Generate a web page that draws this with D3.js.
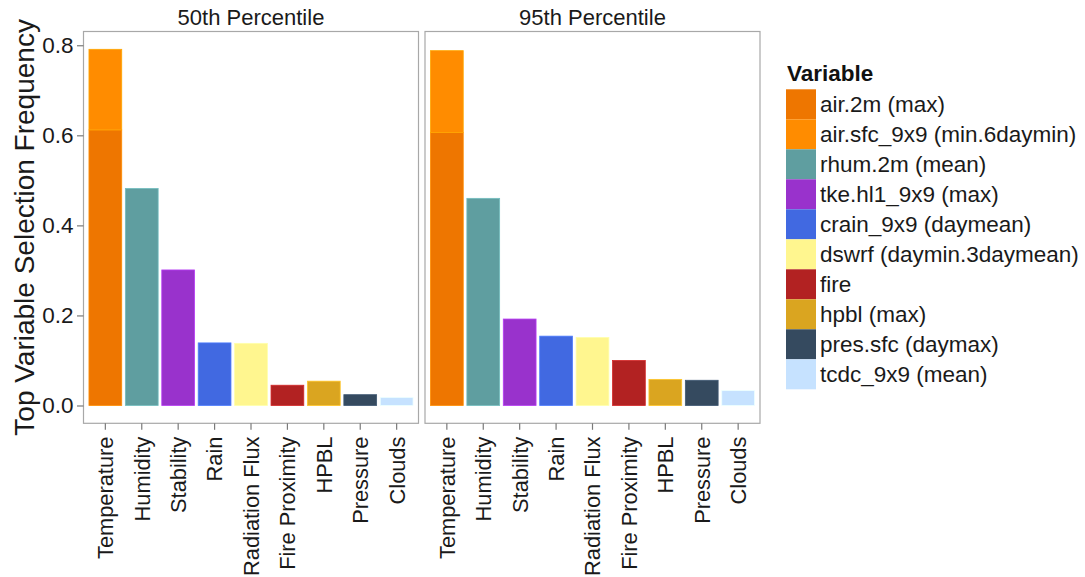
<!DOCTYPE html>
<html>
<head>
<meta charset="utf-8">
<script src="https://cdn.jsdelivr.net/npm/d3@7"></script>
<style>
  html, body { margin: 0; padding: 0; background: #fff; }
  svg { display: block; font-family: "Liberation Sans", Arial, Helvetica, sans-serif; }
</style>
</head>
<body>
<svg id="chart" width="1085" height="577"></svg>
<script>
// Facet panels
const panels = ["50th Percentile", "95th Percentile"];

// Variable groups along the x axis
const categories = ["Temperature", "Humidity", "Stability", "Rain", "Radiation Flux",
                    "Fire Proximity", "HPBL", "Pressure", "Clouds"];

// Legend entries (fill variable), the group each belongs to, and its colour
const variables = ["air.2m (max)", "air.sfc_9x9 (min.6daymin)", "rhum.2m (mean)",
                   "tke.hl1_9x9 (max)", "crain_9x9 (daymean)", "dswrf (daymin.3daymean)",
                   "fire", "hpbl (max)", "pres.sfc (daymax)", "tcdc_9x9 (mean)"];
const variableGroup = ["Temperature", "Temperature", "Humidity", "Stability", "Rain",
                       "Radiation Flux", "Fire Proximity", "HPBL", "Pressure", "Clouds"];
const variableColors = ["#EE7600", "#FF8C00", "#5F9EA0", "#9932CC", "#4169E1",
                        "#FFF68F", "#B22222", "#DAA520", "#354A5F", "#C6E2FF"];

// Selection frequency of each variable, one array per panel (same order as `variables`)
const freq50 = [0.612, 0.179, 0.482, 0.301, 0.139, 0.138, 0.045, 0.054, 0.024, 0.018];
const freq95 = [0.606, 0.182, 0.460, 0.192, 0.154, 0.151, 0.100, 0.058, 0.056, 0.033];
const panelValues = [freq50, freq95];

const yTicks = [0.0, 0.2, 0.4, 0.6, 0.8];

// ---- layout ----
const svg = d3.select("#chart");
const panelTop = 31.5, panelBottom = 423.3;
const panelLeft0 = 83.5, panelWidth = 335, panelGap = 6.5;
const grey = "#a8a8a8";
const tickGrey = "#7a7a7a";
const textSize = 22.5;
const xLabelSize = 21.8;

// stack each panel's values by group
function stackPanel(vals) {
  const base = {};
  return variables.map((v, i) => {
    const g = variableGroup[i];
    const y0 = base[g] || 0;
    base[g] = y0 + vals[i];
    return { variable: v, group: g, color: variableColors[i], y0, y1: y0 + vals[i] };
  });
}
const stacked = panelValues.map(stackPanel);
const maxTotal = d3.max(stacked.flat(), d => d.y1);
const pad = 0.05 * maxTotal;

const y = d3.scaleLinear()
  .domain([-pad, maxTotal + pad])
  .range([panelBottom, panelTop]);

panels.forEach((title, p) => {
  const left = panelLeft0 + p * (panelWidth + panelGap);
  const x = d3.scaleBand()
    .domain(categories)
    .range([left, left + panelWidth])
    .paddingInner(0.1)
    .paddingOuter(0.15);

  const g = svg.append("g");

  // bars
  g.selectAll("rect.bar")
    .data(stacked[p])
    .join("rect")
    .attr("class", "bar")
    .attr("x", d => x(d.group))
    .attr("width", x.bandwidth())
    .attr("y", d => y(d.y1))
    .attr("height", d => y(d.y0) - y(d.y1))
    .attr("fill", d => d.color)
    .attr("stroke", d => d3.color(d.color).brighter(0.5))
    .attr("stroke-width", 0.8);

  // panel border
  g.append("rect")
    .attr("x", left).attr("y", panelTop)
    .attr("width", panelWidth).attr("height", panelBottom - panelTop)
    .attr("fill", "none")
    .attr("stroke", grey)
    .attr("stroke-width", 1.2);

  // strip title
  g.append("text")
    .attr("x", left + panelWidth / 2)
    .attr("y", 24.5)
    .attr("text-anchor", "middle")
    .attr("font-size", 22)
    .attr("fill", "#1a1a1a")
    .text(title);

  // x axis
  const xAxis = g.append("g")
    .attr("transform", `translate(0,${panelBottom})`)
    .call(d3.axisBottom(x).tickSize(6.5).tickSizeOuter(0).tickPadding(0));
  xAxis.select(".domain").remove();
  xAxis.selectAll(".tick line").attr("stroke", tickGrey).attr("stroke-width", 1.2);
  xAxis.selectAll(".tick text")
    .attr("transform", "rotate(-90)")
    .attr("text-anchor", "end")
    .attr("x", -13.3)
    .attr("y", 0)
    .attr("dy", "0.36em")
    .attr("font-size", xLabelSize)
    .attr("font-family", "Liberation Sans, Arial, sans-serif")
    .attr("fill", "#1a1a1a");

  // y axis on first panel
  if (p === 0) {
    const yAxis = g.append("g")
      .attr("transform", `translate(${left},0)`)
      .call(d3.axisLeft(y).tickValues(yTicks).tickFormat(d3.format(".1f"))
        .tickSize(6.5).tickSizeOuter(0).tickPadding(3.5));
    yAxis.select(".domain").remove();
    yAxis.selectAll(".tick line").attr("stroke", tickGrey).attr("stroke-width", 1.2);
    yAxis.selectAll(".tick text")
      .attr("font-size", textSize)
      .attr("font-family", "Liberation Sans, Arial, sans-serif")
      .attr("fill", "#1a1a1a");
  }
});

// y axis title
svg.append("text")
  .attr("transform", `translate(34,${(panelTop + panelBottom) / 2}) rotate(-90)`)
  .attr("text-anchor", "middle")
  .attr("font-size", 28)
  .attr("fill", "#1a1a1a")
  .text("Top Variable Selection Frequency");

// legend
const legend = svg.append("g").attr("transform", "translate(786,0)");
legend.append("text")
  .attr("x", 1).attr("y", 81)
  .attr("font-size", textSize)
  .attr("font-weight", "bold")
  .attr("fill", "#111")
  .text("Variable");

const keyH = 30, keyW = 30, keyTop = 89.3;
const rows = legend.selectAll("g.key")
  .data(variables)
  .join("g")
  .attr("class", "key")
  .attr("transform", (d, i) => `translate(0,${keyTop + i * keyH})`);
rows.append("rect")
  .attr("width", keyW).attr("height", keyH)
  .attr("fill", (d, i) => variableColors[i]);
rows.append("text")
  .attr("x", keyW + 4)
  .attr("y", keyH / 2)
  .attr("dy", "0.36em")
  .attr("font-size", textSize)
  .attr("fill", "#1a1a1a")
  .text(d => d);
</script>
</body>
</html>
